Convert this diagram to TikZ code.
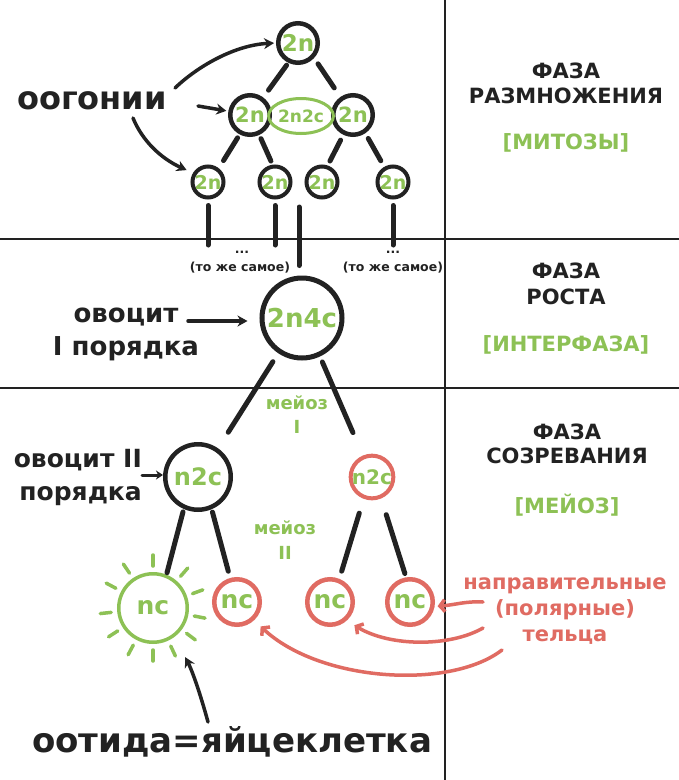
\documentclass[tikz,border=0pt]{standalone}
\usepackage{fontspec}
\setmainfont{DejaVu Sans}
\usetikzlibrary{arrows.meta,shapes.geometric}
\definecolor{gr}{HTML}{8DC155}
\definecolor{rd}{HTML}{E06B62}
\definecolor{ink}{HTML}{222222}
\newcommand\fsz[2]{\fontsize{#1}{#2}\selectfont\bfseries}
\begin{document}
\begin{tikzpicture}[x=1pt,y=-1pt,
  cell/.style={circle,draw=ink,inner sep=0pt,text=gr},
  rcell/.style={circle,draw=rd,inner sep=0pt,text=gr},
  link/.style={ink,line width=5pt,line cap=round},
  arr/.style={ink,line width=3.5pt,line cap=round,-{Stealth[length=10pt,width=11pt]}},
  sarr/.style={ink,line width=3pt,line cap=round,-{Stealth[length=7pt,width=9pt]}},
  rarr/.style={rd,line width=3.5pt,line cap=round,-{Straight Barb[length=5pt,width=12pt]}},
  ray/.style={gr,line width=3.5pt,line cap=round},
  rule/.style={ink,line width=2.5pt},
  lbl/.style={text=ink,align=center,inner sep=0pt}
]
\fill[white] (0,0) rectangle (679,780);
\useasboundingbox (0,0) rectangle (679,780);

% dividers
\draw[rule] (445,0) -- (445,780);
\draw[rule] (0,239) -- (679,239);
\draw[rule] (0,388) -- (679,388);

% phase labels
\node[lbl,font=\fsz{21}{25}] (p1) at (566,83) {ФАЗА\\РАЗМНОЖЕНИЯ};
\node[lbl,text=gr,font=\fsz{21}{25}] (p1b) at (566,143) {[МИТОЗЫ]};
\node[lbl,font=\fsz{21}{26}] (p2) at (566,284) {ФАЗА\\РОСТА};
\node[lbl,text=gr,font=\fsz{21}{25}] (p2b) at (566,345) {[ИНТЕРФАЗА]};
\node[lbl,font=\fsz{21}{24}] (p3) at (567,444) {ФАЗА\\СОЗРЕВАНИЯ};
\node[lbl,text=gr,font=\fsz{21}{25}] (p3b) at (567,505) {[МЕЙОЗ]};

% reproduction phase tree
\node[cell,minimum size=39.5pt,line width=4.5pt,font=\fsz{23}{23}] (t) at (298,43) {2n};
\node[cell,minimum size=39.5pt,line width=4.5pt,font=\fsz{21}{21}] (la) at (250,115) {2n};
\node[cell,minimum size=39.5pt,line width=4.5pt,font=\fsz{21}{21}] (lb) at (353,115) {2n};
\node[ellipse,draw=gr,line width=3pt,minimum width=50pt,minimum height=35pt,inner sep=0pt,text=gr,font=\fsz{17}{17}] (e) at (301,116) {2n2c};
\node[cell,minimum size=31pt,line width=4pt,font=\fsz{19}{19}] (b1) at (208,182) {2n};
\node[cell,minimum size=31pt,line width=4pt,font=\fsz{19}{19}] (b2) at (275,182) {2n};
\node[cell,minimum size=31pt,line width=4pt,font=\fsz{19}{19}] (b3) at (322,182) {2n};
\node[cell,minimum size=31pt,line width=4pt,font=\fsz{19}{19}] (b4) at (393,182) {2n};

\draw[link,shorten <=3pt,shorten >=9pt] (t.244) -- (la.53);
\draw[link,shorten <=7pt,shorten >=11pt] (t.317) -- (lb.125);
\draw[link,shorten <=4pt,shorten >=9pt] (la.242) -- (b1.52);
\draw[link,shorten <=4pt,shorten >=4pt] (la.295) -- (b2.98);
\draw[link,shorten <=6pt,shorten >=5pt] (lb.244) -- (b3.71);
\draw[link,shorten <=6pt,shorten >=7pt] (lb.304) -- (b4.120);

\coordinate (v1) at (208,245);
\draw[link,shorten <=6pt] (b1.south) -- (v1);
\draw[link,shorten <=6pt] (b2.south) -- (b2.south |- v1);
\draw[link,shorten <=6pt] (b4.south) -- (b4.south |- v1);

\node[lbl,font=\fsz{32}{32}] (oog) at (92,101) {оогонии};
\coordinate (oa1) at (175,88);
\coordinate (oa2) at (198,106);
\coordinate (oa3) at (133,118);
\draw[arr,shorten >=2pt] (oa1) .. controls (198,66) and (235,45) .. (t.west);
\draw[arr,shorten >=2pt] (oa2) -- (la.170);
\draw[arr,shorten >=7pt] (oa3) .. controls (142,140) and (160,158) .. (b1.149);

% growth phase
\node[lbl,font=\fsz{12.5}{16}] (d1) at (242,252) {...};
\node[lbl,font=\fsz{12.5}{16}] (s1) at (240,268) {(то же самое)};
\node[lbl,font=\fsz{12.5}{16}] (d2) at (393,252) {...};
\node[lbl,font=\fsz{12.5}{16}] (s2) at (393,268) {(то же самое)};

\node[cell,minimum size=80pt,line width=5pt,font=\fsz{26}{26}] (g) at (302,318) {2n4c};
\coordinate (m) at (299,207);
\draw[link,shorten >=10pt] (m) -- (m |- g.north);

\node[lbl,font=\fsz{26}{33}] (ov1) at (126,334) {овоцит\\I порядка};
\coordinate (oa4) at (188,321);
\draw[arr,shorten >=12pt] (oa4) -- (oa4 -| g.west);

% maturation phase
\node[cell,minimum size=65.5pt,line width=4.5pt,font=\fsz{24}{24}] (n) at (198,477) {n2c};
\node[rcell,minimum size=41pt,line width=4pt,font=\fsz{20}{20}] (rn) at (372,477) {n2c};
\draw[link,shorten <=10pt,shorten >=19pt] (g.236) -- (n.55);
\draw[link,shorten <=6pt,shorten >=25pt] (g.295) -- (rn.113);

\node[lbl,text=gr,font=\fsz{18}{24}] (m1) at (297,415) {мейоз\\I};
\node[lbl,text=gr,font=\fsz{18}{25}] (m2) at (285,540) {мейоз\\II};

\node[lbl,font=\fsz{25}{33},align=right,anchor=east] (ov2) at (142,477) {овоцит II\\порядка};
\coordinate (oa5) at (142,475);
\draw[sarr] (oa5) -- (oa5 -| n.west);

\node[circle,draw=gr,inner sep=0pt,text=gr,minimum size=68.5pt,line width=3.5pt,font=\fsz{25}{25}] (c1) at (153,608) {nc};
\node[rcell,minimum size=45.5pt,line width=4.5pt,font=\fsz{25}{25}] (c2) at (237,602) {nc};
\node[rcell,minimum size=45.5pt,line width=4.5pt,font=\fsz{25}{25}] (c3) at (330,602) {nc};
\node[rcell,minimum size=45.5pt,line width=4.5pt,font=\fsz{25}{25}] (c4) at (410,602) {nc};

\foreach \a in {90,49,20,-11,-37,-65,-90,-118,-147,-174,152,124}
  \draw[ray] ([shift={(\a:42pt)}]c1.center) -- ([shift={(\a:53pt)}]c1.center);

\draw[link,shorten <=3pt,shorten >=2pt] (n.246) -- (c1.68);
\draw[link,shorten <=3pt,shorten >=7pt] (n.293) -- (c2.106);
\draw[link,shorten <=15pt,shorten >=8pt] (rn.249) -- (c3.68);
\draw[link,shorten <=17pt,shorten >=4pt] (rn.293) -- (c4.99);

\node[lbl,text=rd,font=\fsz{21}{26}] (pol) at (565,611) {направительные\\(полярные)\\тельца};
\coordinate (r1) at (483,602);
\coordinate (r2) at (483,628);
\coordinate (r3) at (502,650);
\draw[rarr,shorten >=3pt] (r1) .. controls (465,601) and (455,605) .. (c4.-10);
\draw[rarr,shorten >=9pt] (r2) .. controls (450,647) and (390,647) .. (c3.-48);
\draw[rarr,shorten >=9pt] (r3) .. controls (450,690) and (320,682) .. (c2.-47);

\node[lbl,font=\fsz{34}{34}] (egg) at (232,742) {оотида=яйцеклетка};
\coordinate (oa6) at (208,722);
\draw[arr,shorten >=23pt] (oa6) to[bend right=6] (c1.-53);
\end{tikzpicture}
\end{document}
